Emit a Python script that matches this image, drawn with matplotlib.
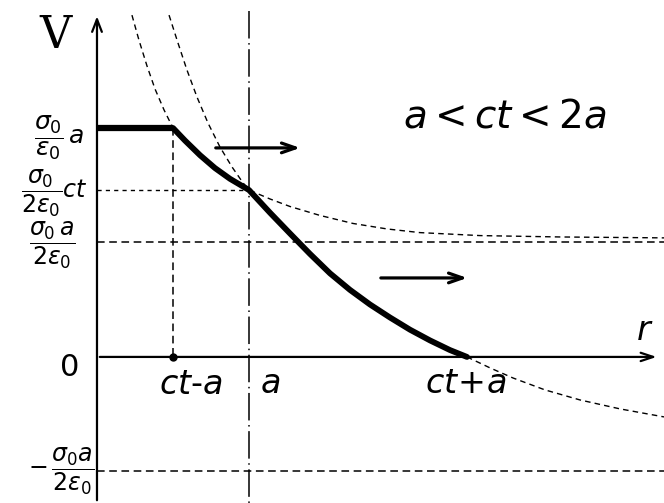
import matplotlib
matplotlib.use("Agg")
from matplotlib import pyplot as plt

# r en unidades de a, V en unidades de sigma0*a/eps0
ct_menos_a = 0.5
radio_a = 1.0
ct_mas_a = 2.434
nivel_plateau = 1.0
nivel_ct = 0.729
nivel_medio = 0.5
nivel_neg = -0.5

# curva gruesa: meseta y caída
r_meseta = [0.0, 0.5]
v_meseta = [1.0, 1.0]
r_grueso = [0.5, 0.579, 0.678, 0.776, 0.875, 1.0, 1.138, 1.270, 1.401, 1.533,
            1.664, 1.796, 1.928, 2.059, 2.191, 2.322, 2.434]
v_grueso = [1.0, 0.945, 0.881, 0.825, 0.778, 0.729, 0.630, 0.539, 0.450, 0.365,
            0.293, 0.229, 0.172, 0.119, 0.072, 0.030, 0.0]

# curvas punteadas
r_izq = [0.230, 0.276, 0.329, 0.382, 0.441, 0.5]
v_izq = [1.493, 1.384, 1.271, 1.170, 1.079, 1.0]
r_der = [0.474, 0.533, 0.592, 0.658, 0.730, 0.809, 0.888, 0.961, 1.0,
         1.138, 1.270, 1.467, 1.684, 1.908, 2.125, 2.520, 3.046, 3.73]
v_der = [1.493, 1.371, 1.253, 1.135, 1.022, 0.917, 0.830, 0.760, 0.729,
         0.690, 0.657, 0.618, 0.583, 0.559, 0.543, 0.530, 0.524, 0.520]
r_bajo = [2.434, 2.586, 2.737, 2.947, 3.178, 3.441, 3.73]
v_bajo = [0.0, -0.048, -0.092, -0.144, -0.188, -0.227, -0.262]

R_MIN, R_MAX = -0.638, 3.73
V_MIN, V_MAX = -0.638, 1.559

plt.rcParams["mathtext.fontset"] = "dejavusans"

fig = plt.figure(figsize=(6.64, 5.03), dpi=100)
ax = fig.add_axes([0, 0, 1, 1])
ax.set_xlim(R_MIN, R_MAX)
ax.set_ylim(V_MIN, V_MAX)
ax.axis("off")

k = "black"
# ejes con flecha
ax.annotate("", xy=(0, 1.50), xytext=(0, V_MIN),
            arrowprops=dict(arrowstyle="->,head_length=0.9,head_width=0.35", lw=1.6, color=k))
ax.annotate("", xy=(3.70, 0), xytext=(0, 0),
            arrowprops=dict(arrowstyle="->,head_length=0.9,head_width=0.3", lw=1.6, color=k))

# líneas de referencia
ax.plot([0, radio_a], [nivel_ct, nivel_ct], color=k, lw=1.0, dashes=(3, 3))
ax.plot([0, R_MAX], [nivel_medio, nivel_medio], color=k, lw=1.1, dashes=(5, 3))
ax.plot([0, R_MAX], [nivel_neg, nivel_neg], color=k, lw=1.1, dashes=(5, 3))
ax.plot([ct_menos_a, ct_menos_a], [nivel_plateau, 0], color=k, lw=1.1, dashes=(5, 3))
ax.plot([radio_a, radio_a], [1.51, V_MIN], color=k, lw=1.1, dashes=(18, 3, 1, 3))
ax.plot([ct_menos_a], [0], "o", color=k, ms=5)

# curvas punteadas
ax.plot(r_izq, v_izq, color=k, lw=1.0, dashes=(4, 3))
ax.plot(r_der, v_der, color=k, lw=1.0, dashes=(4, 3))
ax.plot(r_bajo, v_bajo, color=k, lw=1.0, dashes=(4, 3))

# curva gruesa
ax.plot(r_meseta, v_meseta, color=k, lw=4.5, solid_capstyle="butt")
ax.plot(r_grueso, v_grueso, color=k, lw=4.2, solid_capstyle="round", solid_joinstyle="round")

# flechas de propagación
ax.annotate("", xy=(1.355, 0.913), xytext=(0.763, 0.913),
            arrowprops=dict(arrowstyle="->,head_length=1.0,head_width=0.35", lw=2.3, color=k))
ax.annotate("", xy=(2.454, 0.345), xytext=(1.849, 0.345),
            arrowprops=dict(arrowstyle="->,head_length=1.0,head_width=0.35", lw=2.3, color=k))

# textos
ax.text(-0.276, 1.406, "V", fontsize=32, family="DejaVu Serif", ha="center", va="center")
ax.text(-0.08, 0.956, r"$\dfrac{\sigma_0}{\varepsilon_0}\,a$", fontsize=18, ha="right", va="center")
ax.text(-0.06, 0.716, r"$\dfrac{\sigma_0}{2\varepsilon_0}ct$", fontsize=17, ha="right", va="center")
ax.text(-0.296, 0.49, r"$\dfrac{\sigma_0\, a}{2\varepsilon_0}$", fontsize=17, ha="center", va="center")
ax.text(-0.178, -0.048, "0", fontsize=22, ha="center", va="center")
ax.text(-0.02, -0.50, r"$-\,\dfrac{\sigma_0 a}{2\varepsilon_0}$", fontsize=17, ha="right", va="center")
ax.text(0.618, -0.122, r"$ct\text{-}a$", fontsize=24, ha="center", va="center")
ax.text(1.138, -0.114, r"$a$", fontsize=24, ha="center", va="center")
ax.text(2.43, -0.118, r"$ct\!+\!a$", fontsize=24, ha="center", va="center")
ax.text(2.684, 1.048, r"$a < ct < 2a$", fontsize=28, ha="center", va="center")
ax.text(3.605, 0.114, r"$r$", fontsize=24, ha="center", va="center")

fig.savefig("out.png", dpi=100)
